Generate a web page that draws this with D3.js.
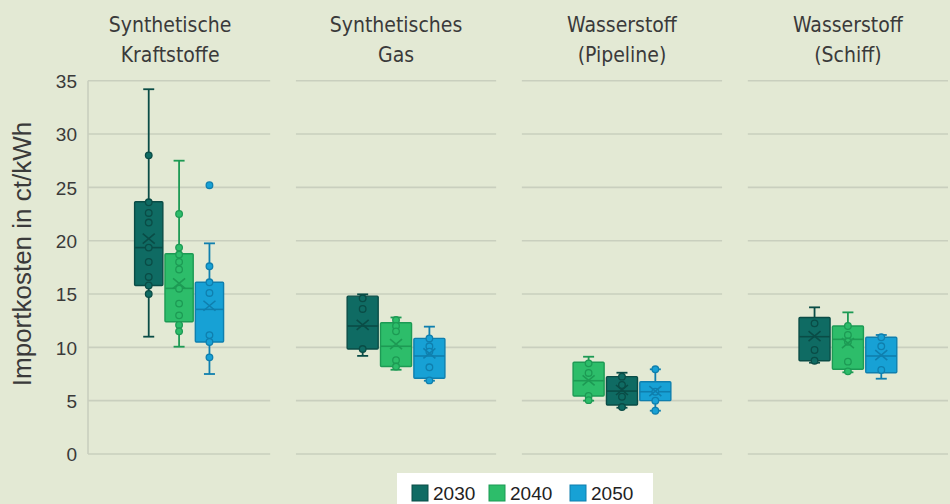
<!DOCTYPE html>
<html>
<head>
<meta charset="utf-8">
<script src="https://cdn.jsdelivr.net/npm/d3@7"></script>
<style>
html,body{margin:0;padding:0;background:#e3e9d4;}
svg{display:block;}
</style>
</head>
<body>
<svg id="chart" width="950" height="504"></svg>
<script>
// ---------------- DATA ----------------
const categories = [
  ["Synthetische", "Kraftstoffe"],
  ["Synthetisches", "Gas"],
  ["Wasserstoff", "(Pipeline)"],
  ["Wasserstoff", "(Schiff)"]
];
const years = ["2030", "2040", "2050"];
// order of the boxes inside each category (index into years)
const boxOrder = [[0,1,2],[0,1,2],[1,0,2],[0,1,2]];
const yTicks = [0, 5, 10, 15, 20, 25, 30, 35];

// [whiskerLow, q1, median, q3, whiskerHigh, mean] per category
const stats2030 = [
  [11.0, 15.8, 19.35, 23.65, 34.2, 20.2],
  [9.2, 9.84, 12.0, 14.8, 14.97, 12.1],
  [4.34, 4.59, 5.9, 7.25, 7.62, 6.0],
  [8.56, 8.75, 11.0, 12.8, 13.75, 11.06]
];
const stats2040 = [
  [10.06, 12.4, 15.53, 18.78, 27.5, 16.0],
  [7.9, 8.2, 10.1, 12.3, 12.8, 10.3],
  [5.0, 5.44, 6.87, 8.6, 9.12, 6.9],
  [7.66, 7.94, 10.75, 12.0, 13.28, 10.4]
];
const stats2050 = [
  [7.5, 10.5, 13.56, 16.1, 19.75, 13.9],
  [6.87, 7.1, 9.19, 10.84, 11.94, 9.44],
  [4.06, 5.0, 5.84, 6.78, 7.94, 5.9],
  [7.06, 7.62, 9.19, 10.94, 11.16, 9.28]
];
// individual data points (inner points and outliers)
const points2030 = [
  [28.0, 23.6, 22.6, 21.7, 19.35, 18.0, 16.6, 15.8, 15.0],
  [14.6, 13.6, 9.84],
  [7.25, 6.47, 5.37, 4.4],
  [12.25, 9.75, 8.75]
];
const points2040 = [
  [22.5, 19.35, 18.7, 18.0, 17.3, 15.5, 14.1, 13.0, 12.1, 11.5],
  [12.56, 12.0, 11.5, 8.8, 8.2],
  [8.5, 7.6, 5.44, 5.05],
  [12.0, 11.16, 10.53, 8.66, 7.75]
];
const points2050 = [
  [25.2, 17.6, 16.1, 15.1, 11.15, 10.5, 9.06],
  [10.84, 10.1, 9.6, 8.13, 6.9],
  [7.94, 5.84, 5.0, 4.06],
  [10.94, 10.1, 7.875]
];

// ---------------- STYLE ----------------
const fills   = ["#0f6b63", "#2dbd6a", "#17a1d5"];
const strokes = ["#0a4c46", "#1d9a54", "#0f7fae"];
const allStats = [stats2030, stats2040, stats2050];
const allPoints = [points2030, points2040, points2050];
const sansFont = "'Liberation Sans', Arial, Helvetica, sans-serif";
const titleFont = "'Liberation Sans Narrow', 'DejaVu Sans Condensed', 'Roboto Condensed', sans-serif";

const svg = d3.select("#chart");
const axisX = 88;

const y = d3.scaleLinear().domain([0, 35]).range([454, 80.7]);
const xPanel = d3.scaleBand().domain(d3.range(categories.length))
  .range([70, 948]).paddingInner(0.114).paddingOuter(0);

const gridColor = "#c9cfbe";
const textColor = "#3a3a3a";

// panel gridlines
categories.forEach((c, i) => {
  const x0 = Math.max(xPanel(i), axisX);
  const x1 = xPanel(i) + xPanel.bandwidth();
  svg.append("g").selectAll("line").data(yTicks).join("line")
    .attr("x1", x0).attr("x2", x1)
    .attr("y1", d => y(d)).attr("y2", d => y(d))
    .attr("stroke", gridColor).attr("stroke-width", 1.6);
});
// left axis line
svg.append("line").attr("x1", axisX).attr("x2", axisX)
  .attr("y1", y(35)).attr("y2", y(0))
  .attr("stroke", gridColor).attr("stroke-width", 1.6);

// y tick labels via d3 axis
const yAxis = d3.axisLeft(y).tickValues(yTicks).tickSize(0).tickPadding(0);
const gy = svg.append("g").attr("transform", `translate(77,0)`).call(yAxis);
gy.select(".domain").remove();
gy.selectAll("text").attr("font-family", sansFont)
  .attr("font-size", 19).attr("fill", textColor).attr("dy", "0.36em");

// y axis title
svg.append("text")
  .attr("transform", `translate(31,${254}) rotate(-90)`)
  .attr("text-anchor", "middle")
  .attr("font-family", sansFont)
  .attr("font-size", 26).attr("fill", textColor)
  .text("Importkosten in ct/kWh");

// titles
categories.forEach((lines, i) => {
  const cx = xPanel(i) + xPanel.bandwidth() / 2;
  const t = svg.append("text").attr("text-anchor", "middle")
    .attr("font-family", titleFont)
    .attr("font-size", 21).attr("fill", textColor);
  lines.forEach((l, k) => {
    t.append("tspan").attr("x", cx).attr("y", 32 + k * 30).text(l);
  });
});

// boxes
categories.forEach((c, i) => {
  const x0 = Math.max(xPanel(i), axisX);
  const x1 = xPanel(i) + xPanel.bandwidth();
  const center = (x0 + x1) / 2;
  const groupW = (x1 - x0) * 0.5;
  const inner = d3.scaleBand().domain(d3.range(3))
    .range([center - groupW / 2, center + groupW / 2])
    .paddingInner(0.07).paddingOuter(0.035);
  boxOrder[i].forEach((s, slot) => {
    const [wl, q1, med, q3, wh, mean] = allStats[s][i];
    const bx = inner(slot), bw = inner.bandwidth(), cx = bx + bw / 2;
    const g = svg.append("g");
    const col = fills[s], st = strokes[s];
    // whiskers
    g.append("line").attr("x1", cx).attr("x2", cx).attr("y1", y(wh)).attr("y2", y(q3))
      .attr("stroke", st).attr("stroke-width", 1.8);
    g.append("line").attr("x1", cx).attr("x2", cx).attr("y1", y(q1)).attr("y2", y(wl))
      .attr("stroke", st).attr("stroke-width", 1.8);
    [wl, wh].forEach(v => g.append("line").attr("x1", cx - 5.5).attr("x2", cx + 5.5)
      .attr("y1", y(v)).attr("y2", y(v)).attr("stroke", st).attr("stroke-width", 1.8));
    // box
    g.append("rect").attr("x", bx).attr("y", y(q3)).attr("width", bw)
      .attr("height", y(q1) - y(q3)).attr("fill", col)
      .attr("stroke", st).attr("stroke-width", 1.4).attr("rx", 1);
    // median
    g.append("line").attr("x1", bx).attr("x2", bx + bw).attr("y1", y(med)).attr("y2", y(med))
      .attr("stroke", st).attr("stroke-width", 1.6);
    // points
    g.selectAll("circle").data(allPoints[s][i]).join("circle")
      .attr("cx", cx).attr("cy", d => y(d)).attr("r", 3.3)
      .attr("fill", col).attr("stroke", st).attr("stroke-width", 1.3);
    // mean X
    const my = y(mean);
    g.append("path").attr("d", `M${cx-6},${my-5}L${cx+6},${my+5}M${cx-6},${my+5}L${cx+6},${my-5}`)
      .attr("stroke", st).attr("stroke-width", 1.6).attr("fill", "none");
  });
});

// legend
const lg = svg.append("g");
lg.append("rect").attr("x", 397).attr("y", 473).attr("width", 256).attr("height", 40)
  .attr("fill", "#ffffff");
const legX = [412, 489, 570];
years.forEach((yr, k) => {
  lg.append("rect").attr("x", legX[k]).attr("y", 485).attr("width", 16).attr("height", 16)
    .attr("fill", fills[k]).attr("stroke", strokes[k]).attr("stroke-width", 1);
  lg.append("text").attr("x", legX[k] + 21).attr("y", 499.5)
    .attr("font-family", sansFont).attr("font-size", 19)
    .attr("fill", "#222").text(yr);
});
</script>
</body>
</html>
